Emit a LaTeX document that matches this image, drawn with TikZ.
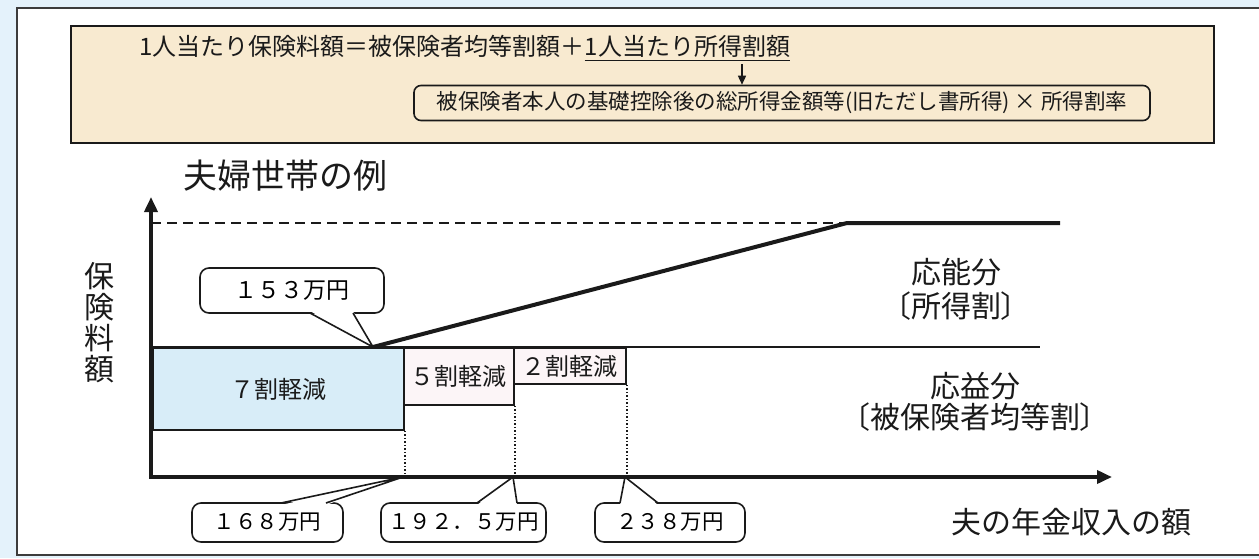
\documentclass[tikz,border=0pt]{standalone}
\usepackage{fontspec}
\setmainfont{Noto Sans CJK JP}
\newfontfamily\jpp[RawFeature=+palt]{Noto Sans CJK JP}
\usetikzlibrary{arrows.meta}
\definecolor{bgblue}{HTML}{E4F2FB}
\definecolor{beige}{HTML}{F8EAD0}
\definecolor{boxblue}{HTML}{D8EDF8}
\definecolor{boxpink}{HTML}{FCF5F7}
\definecolor{ink}{HTML}{1A1A1A}
\newcommand{\fs}[1]{\fontsize{#1}{#1}\selectfont}
\tikzset{
  txt/.style={inner sep=0pt, text=ink},
  callout/.style={draw=ink, fill=white, line width=1.6pt, rounded corners=9pt, inner sep=0pt},
  pointer/.style={draw=ink, line width=1.6pt, line join=miter},
  zonebox/.style={draw=ink, line width=1.8pt, inner sep=0pt, anchor=north west, font=\fs{24}, text=ink},
  axis/.style={draw=ink, line width=3.6pt, -{Triangle[length=15pt,width=13pt]}},
  guide/.style={draw=ink, line width=1.5pt, dotted},
}
\begin{document}
\begin{tikzpicture}[x=1pt,y=-1pt]
\useasboundingbox (0,0) rectangle (1259,558);
\fill[bgblue] (0,0) rectangle (1259,558);
\draw[draw=ink!85, line width=2pt, fill=white] (17,8) rectangle (1275,555);

% formula panel
\node[draw=ink, line width=1.8pt, fill=beige, minimum width=1143pt, minimum height=117pt, anchor=north west, inner sep=0pt] (panel) at (70,25) {};
\node[txt, anchor=west, font=\fs{24}] (f1) at (139,46) {1人当たり保険料額＝被保険者均等割額＋};
\node[txt, anchor=west, font=\fs{24}] (f2) at (f1.east) {1人当たり所得割額};
\draw[ink, line width=1.5pt] ([yshift=-3pt]f2.south west) -- ([yshift=-3pt]f2.south east);
\node[draw=ink, line width=1.6pt, fill=beige, rounded corners=7pt, minimum width=736pt, minimum height=35pt, inner sep=0pt, font=\fs{21.5}, text=ink] (fbox) at (782,103) {被保険者本人の基礎控除後の総所得金額等(旧ただし書所得) × 所得割率};
\coordinate (ua) at (742,64);
\draw[ink, line width=1.5pt, -{Triangle[length=9pt,width=8pt]}] (ua) -- (ua |- fbox.north);

% title and axis labels
\node[txt, font=\fs{34}] (title) at (285,176) {夫婦世帯の例};
\node[txt, font=\fontsize{30}{31}\selectfont, align=center] (ylab) at (99,323) {保\\険\\料\\額};
\node[txt, font=\fs{30}] (xlab) at (1071,522) {夫の年金収入の額};
\node[txt, font=\fontsize{30}{34}\jpp, align=center] (nou) at (956,289) {応能分\\〔所得割〕};
\node[txt, font=\fontsize{30}{31}\jpp, align=center] (eki) at (975,402) {応益分\\〔被保険者均等割〕};

% callouts
\node[callout, minimum width=184pt, minimum height=45pt, font=\fs{23}] (c153) at (292,290.5) {１５３万円};
\node[callout, minimum width=151pt, minimum height=39pt, font=\fs{21.5}] (c168) at (267.5,522.5) {１６８万円};
\node[callout, minimum width=165pt, minimum height=39pt, font=\fs{21.5}] (c192) at (463.5,522.5) {１９２．５万円};
\node[callout, minimum width=150pt, minimum height=39pt, font=\fs{21.5}] (c238) at (670,522.5) {２３８万円};

\coordinate (t153) at (373,347);
\coordinate (a153) at (310,313); \coordinate (b153) at (353,313);
\coordinate (t168) at (403,477);
\coordinate (a168) at (281,503); \coordinate (b168) at (326,503);
\coordinate (t192) at (513,477);
\coordinate (a192) at (477,503); \coordinate (b192) at (517,503);
\coordinate (t238) at (625,477);
\coordinate (a238) at (620,503); \coordinate (b238) at (658,503);

\fill[white] ([yshift=2pt]a153) -- (t153) -- ([yshift=2pt]b153) -- cycle;
\draw[pointer] (a153) -- (t153) -- (b153);
\foreach \n in {168,192,238}{
  \fill[white] ([yshift=-2pt]a\n) -- (t\n) -- ([yshift=-2pt]b\n) -- cycle;
  \draw[pointer] (a\n) -- (t\n) -- (b\n);
}

% reduction zones
\node[zonebox, fill=boxblue, minimum width=251pt, minimum height=82pt] (z7) at (152,347) {７割軽減};
\node[zonebox, fill=boxpink, minimum width=110pt, minimum height=57pt] (z5) at (403,347) {５割軽減};
\node[zonebox, fill=boxpink, minimum width=112pt, minimum height=36pt] (z2) at (513,347) {２割軽減};

% axes
\coordinate (origin) at (151,477);
\coordinate (ytip) at (151,197);
\coordinate (xtip) at (1112,477);
\coordinate (base) at (1040,347);
\coordinate (cap) at (847,223);
\coordinate (capend) at (1060,223);

\draw[guide] (z7.south east) -- (z7.south east |- origin);
\draw[guide] (z5.south east) -- (z5.south east |- origin);
\draw[guide] (z2.south east) -- (z2.south east |- origin);

\draw[ink, line width=1.8pt] (z7.north west) -- (base);
\draw[ink, line width=2pt, dash pattern=on 10pt off 6pt] (origin |- cap) -- (cap);
\draw[ink, line width=4pt, line join=round] (t153) -- (cap) -- (capend);

\draw[axis] (origin) -- (ytip);
\draw[axis] ([xshift=-1.8pt]origin) -- (xtip);
\end{tikzpicture}
\end{document}
